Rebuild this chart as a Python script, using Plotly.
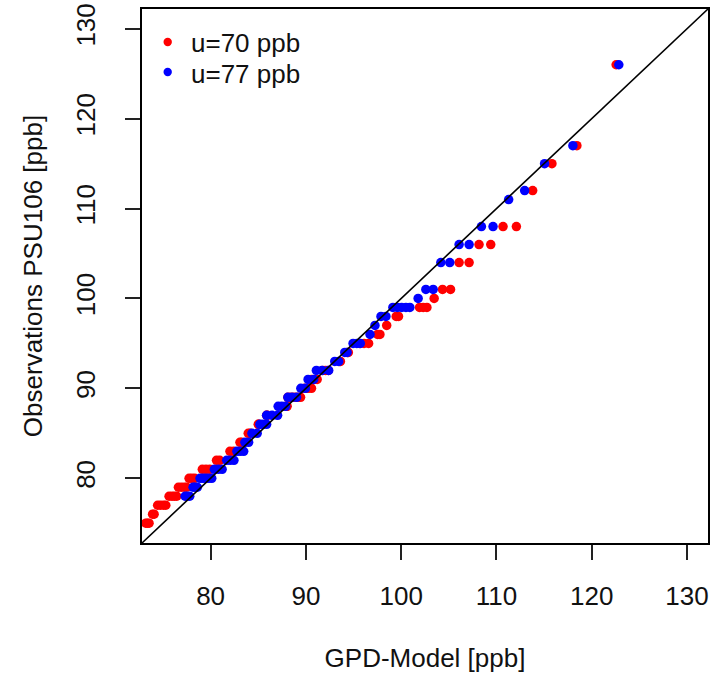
import plotly.graph_objects as go

# Q-Q comparison of observed ozone maxima at PSU106 against fitted GPD quantiles
# for two thresholds. Each observation is paired with its model quantile.

# threshold u = 70 ppb
obs_u70 = [75, 75, 75, 76, 76, 77, 77, 77, 77, 78, 78, 78, 78, 79, 79, 79, 79,
           80, 80, 80, 81, 81, 81, 82, 82, 83, 83, 84, 84, 85, 85, 86, 86, 87, 87,
           88, 88, 89, 89, 89, 89, 89, 90, 90, 90, 91, 91, 91, 92, 92, 92, 93, 93,
           94, 94, 95, 95, 95, 96, 96, 97, 98, 98, 99, 99, 99, 100, 101, 101,
           104, 104, 106, 106, 108, 108, 112, 115, 117, 126]
gpd_u70 = [73.20, 73.37, 73.54, 73.91, 74.07, 74.44, 74.73, 75.05, 75.30,
           75.64, 75.94, 76.20, 76.45, 76.62, 76.93, 77.25, 77.50,
           77.74, 78.03, 78.33, 79.13, 79.52, 79.91, 80.62, 80.95, 82.03, 82.42,
           83.08, 83.26, 83.95, 84.16, 85.00, 85.05, 85.88, 85.94,
           87.96, 88.03, 88.11, 88.45, 88.77, 89.10, 89.44, 89.89, 90.23, 90.59,
           90.60, 90.90, 91.18, 91.77, 92.07, 92.36, 93.55, 93.62,
           94.39, 94.45, 95.65, 96.10, 96.58, 97.53, 97.77, 98.48, 99.48, 99.72,
           101.93, 102.31, 102.70, 103.46, 104.34, 105.18,
           106.08, 107.13, 108.17, 109.40, 110.69, 112.09, 113.80, 115.82,
           118.44, 122.56]

# threshold u = 77 ppb
obs_u77 = [78, 78, 78, 79, 79, 79, 80, 80, 80, 80, 80, 81, 81, 81, 82, 82, 82,
           83, 83, 83, 84, 84, 85, 85, 86, 86, 86, 87, 87, 87, 88, 88, 88,
           89, 89, 89, 90, 90, 91, 91, 92, 92, 92, 93, 93, 94, 94, 95, 95, 95,
           96, 97, 98, 98, 99, 99, 99, 99, 99, 100, 101, 101, 104, 104,
           106, 106, 108, 108, 111, 112, 115, 117, 126]
gpd_u77 = [77.32, 77.55, 77.81, 78.16, 78.35, 78.61, 78.89, 79.20, 79.50, 79.80,
           80.12, 80.39, 80.80, 81.21, 81.69, 82.05, 82.45,
           82.76, 83.10, 83.47, 83.60, 83.99, 84.34, 84.89, 85.17, 85.50, 85.88,
           85.88, 86.45, 87.03, 87.09, 87.47, 87.87,
           88.11, 88.55, 89.02, 89.47, 89.95, 90.23, 90.82, 91.10, 91.70, 92.39,
           93.03, 93.44, 94.08, 94.32, 94.95, 95.35, 95.71,
           96.73, 97.25, 97.88, 98.40, 99.13, 99.60, 100.05, 100.50, 100.91,
           101.78, 102.59, 103.36, 104.16, 105.10,
           106.08, 107.13, 108.42, 109.64, 111.28, 112.96, 115.05, 118.02, 122.84]

series_names = ["u=70 ppb", "u=77 ppb"]
series_colors = ["#FF0000", "#0000FF"]

# axis limits 75..130 widened by 4% on each side
LIM = (75, 130)
pad = 0.04 * (LIM[1] - LIM[0])
AX_RANGE = [LIM[0] - pad, LIM[1] + pad]
tick_vals = [80, 90, 100, 110, 120, 130]

FONT = "Liberation Sans, Arial, sans-serif"
TXT = "#111"

W, H = 725, 673
M = dict(l=142, r=17, t=9, b=130)
PW, PH = W - M["l"] - M["r"], H - M["t"] - M["b"]


def px_to_paper(px, py):
    """Convert page pixel position to paper coordinates of the plot area."""
    return (px - M["l"]) / PW, (H - M["b"] - py) / PH


fig = go.Figure()
for xs, ys, name, col in [(gpd_u70, obs_u70, series_names[0], series_colors[0]),
                          (gpd_u77, obs_u77, series_names[1], series_colors[1])]:
    fig.add_trace(go.Scatter(
        x=xs, y=ys, mode="markers", name=name, showlegend=False,
        marker=dict(color=col, size=9.5, line=dict(width=0)),
    ))

# 1:1 reference line across the whole panel
fig.add_trace(go.Scatter(
    x=AX_RANGE, y=AX_RANGE, mode="lines", showlegend=False,
    line=dict(color="black", width=1.6), hoverinfo="skip",
))

# borderless key in the top-left corner
key_rows = [42, 72]
dot_r = 4.2
for row_y, name, col in zip(key_rows, series_names, series_colors):
    x0, y0 = px_to_paper(167.7 - dot_r, row_y + dot_r)
    x1, y1 = px_to_paper(167.7 + dot_r, row_y - dot_r)
    fig.add_shape(type="circle", xref="paper", yref="paper",
                  x0=x0, y0=y0, x1=x1, y1=y1,
                  fillcolor=col, line=dict(width=0))
    tx, ty = px_to_paper(189, row_y + 1.5)
    fig.add_annotation(x=tx, y=ty, xref="paper", yref="paper", text=name,
                       showarrow=False, xanchor="left", yanchor="middle",
                       font=dict(family=FONT, size=26, color=TXT))

axis_common = dict(
    range=AX_RANGE, tickvals=tick_vals, ticks="outside", ticklen=15,
    tickwidth=1.5, tickcolor="#222", showline=True, linecolor="black",
    linewidth=1.5, mirror=True, showgrid=False, zeroline=False,
    automargin=False,
    tickfont=dict(family=FONT, size=26, color=TXT),
)

fig.update_layout(
    width=W, height=H,
    margin=M,
    paper_bgcolor="white", plot_bgcolor="white",
    font=dict(family=FONT, size=26, color=TXT),
    showlegend=False,
    xaxis=dict(axis_common, ticklabelstandoff=14,
               title=dict(text="GPD-Model [ppb]", standoff=39,
                          font=dict(family=FONT, size=26, color=TXT))),
    yaxis=dict(axis_common, tickangle=-90, ticklabelstandoff=20,
               title=dict(text="Observations PSU106 [ppb]", standoff=21,
                          font=dict(family=FONT, size=26, color=TXT))),
)

fig.write_html("out.html")
